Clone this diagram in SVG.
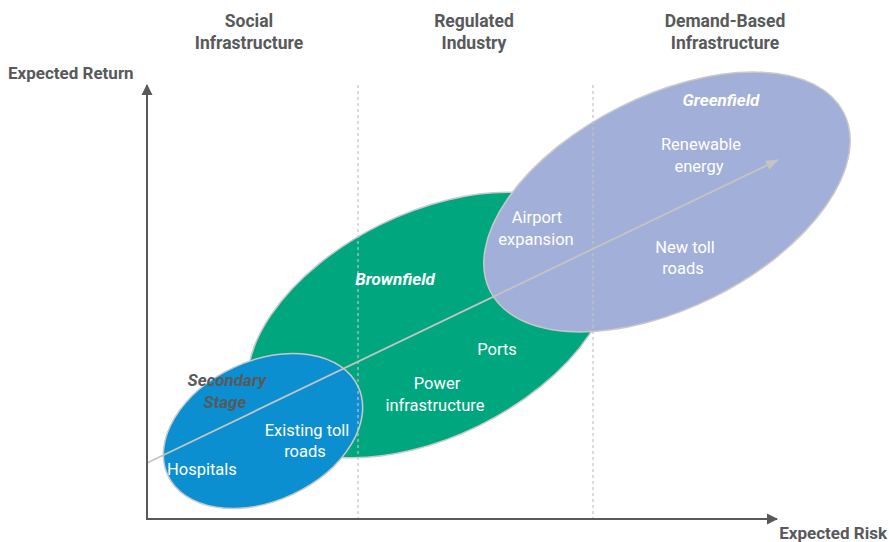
<svg xmlns="http://www.w3.org/2000/svg" width="889" height="542" viewBox="0 0 889 542">
<style>
.hdr{font-family:Roboto,"Liberation Sans",sans-serif;font-weight:bold;font-size:17.5px;fill:#58595b;text-anchor:middle}
.ax{font-family:Roboto,"Liberation Sans",sans-serif;font-weight:bold;font-size:17px;fill:#58595b}
.lbl{font-family:Roboto,"Liberation Sans",sans-serif;font-size:16.5px;fill:#ffffff;text-anchor:middle}
.lbl-start{font-family:Roboto,"Liberation Sans",sans-serif;font-size:16.5px;fill:#ffffff;text-anchor:start}
.stage{font-family:Roboto,"Liberation Sans",sans-serif;font-size:17px;font-weight:bold;font-style:italic;text-anchor:middle}
.ell{stroke:#c9c9c9;stroke-width:1.5}
.grid{stroke:#c4c4c4;stroke-width:1.2;stroke-dasharray:3 3;fill:none}
.axis{stroke:#58595b;stroke-width:2;fill:none}
</style>
<defs>
<marker id="axHead" markerWidth="12" markerHeight="12" refX="10" refY="6" orient="auto" markerUnits="userSpaceOnUse">
<path d="M0,0.5 L11,6 L0,11.5 Z" fill="#58595b"/>
</marker>
<marker id="diagHead" markerWidth="14" markerHeight="12" refX="12" refY="6" orient="auto" markerUnits="userSpaceOnUse">
<path d="M0,1 L13,6 L0,11 Z" fill="#c4c4c4"/>
</marker>
</defs>
<rect width="889" height="542" fill="#ffffff"/>

<g id="brownfield">
<ellipse class="ell" cx="430" cy="325" rx="196" ry="112" transform="rotate(-26.3 430 325)" fill="#00a77e"/>
</g>
<g id="secondary-stage">
<ellipse class="ell" cx="263" cy="431" rx="105" ry="70" transform="rotate(-25 263 431)" fill="#0b8fd1"/>
</g>
<g id="greenfield">
<ellipse class="ell" cx="667" cy="202" rx="198" ry="106" transform="rotate(-26.7 667 202)" fill="#a2afd8"/>
</g>

<g id="connectors">
<line class="grid" x1="358" y1="85" x2="358" y2="518"/>
<line class="grid" x1="593" y1="85" x2="593" y2="518"/>
<line x1="147" y1="463" x2="778" y2="160" stroke="#c4c4c4" stroke-width="1.8" marker-end="url(#diagHead)"/>
<line class="axis" x1="147" y1="519" x2="147" y2="85" marker-end="url(#axHead)"/>
<line class="axis" x1="146" y1="519" x2="777" y2="519" marker-end="url(#axHead)"/>
</g>

<g id="headers">
<text class="hdr" x="249" y="27">Social</text>
<text class="hdr" x="249" y="49">Infrastructure</text>
<text class="hdr" x="474" y="27">Regulated</text>
<text class="hdr" x="474" y="49">Industry</text>
<text class="hdr" x="725" y="27">Demand-Based</text>
<text class="hdr" x="725" y="49">Infrastructure</text>
</g>
<g id="axis-labels">
<text class="ax" x="8" y="79">Expected Return</text>
<text class="ax" x="887" y="539" text-anchor="end">Expected Risk</text>
</g>

<g id="labels">
<text class="stage" x="395" y="285" fill="#ffffff">Brownfield</text>
<text class="stage" x="721" y="106" fill="#ffffff">Greenfield</text>
<text class="stage" x="227" y="386" fill="#58595b">Secondary</text>
<text class="stage" x="225" y="408" fill="#58595b">Stage</text>
<text class="lbl-start" x="167" y="475">Hospitals</text>
<text class="lbl" x="307" y="436">Existing toll</text>
<text class="lbl" x="305" y="457">roads</text>
<text class="lbl" x="437" y="389">Power</text>
<text class="lbl" x="435" y="411">infrastructure</text>
<text class="lbl" x="497" y="355">Ports</text>
<text class="lbl" x="537" y="223">Airport</text>
<text class="lbl" x="536" y="245">expansion</text>
<text class="lbl" x="701" y="150">Renewable</text>
<text class="lbl" x="699" y="172">energy</text>
<text class="lbl" x="685" y="253">New toll</text>
<text class="lbl" x="683" y="274">roads</text>
</g>
</svg>
